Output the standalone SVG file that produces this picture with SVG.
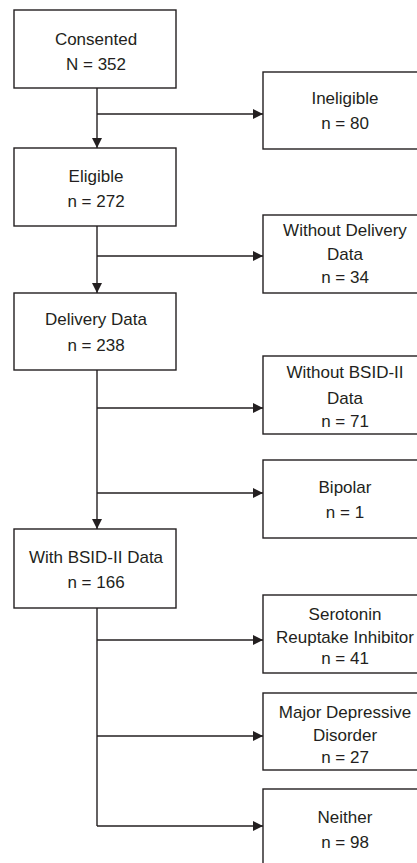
<svg xmlns="http://www.w3.org/2000/svg" width="417" height="863" viewBox="0 0 417 863">
<style>
.box{fill:#fff;stroke:#231f20;stroke-width:1.4}
.ln{fill:none;stroke:#231f20;stroke-width:1.4}
text{font-family:"Liberation Sans",Arial,sans-serif;font-size:17px;fill:#231f20;text-anchor:middle}
</style>
<defs>
<marker id="ah" viewBox="0 0 10 10" refX="10" refY="5" markerWidth="10" markerHeight="10" markerUnits="userSpaceOnUse" orient="auto">
<path d="M0,0 L10,5 L0,10 Z" fill="#231f20"/>
</marker>
</defs>
<rect width="417" height="863" fill="#fff"/>
<g id="connectors">
<path class="ln" d="M97,88 V148" marker-end="url(#ah)"/>
<path class="ln" d="M97,114 H263" marker-end="url(#ah)"/>
<path class="ln" d="M97,226 V293" marker-end="url(#ah)"/>
<path class="ln" d="M97,256 H263" marker-end="url(#ah)"/>
<path class="ln" d="M97,370 V529" marker-end="url(#ah)"/>
<path class="ln" d="M97,408 H263" marker-end="url(#ah)"/>
<path class="ln" d="M97,493 H263" marker-end="url(#ah)"/>
<path class="ln" d="M97,608 V826"/>
<path class="ln" d="M97,640 H263" marker-end="url(#ah)"/>
<path class="ln" d="M97,736 H263" marker-end="url(#ah)"/>
<path class="ln" d="M97,826 H263" marker-end="url(#ah)"/>
</g>
<g id="consented"><rect class="box" x="14" y="10" width="162" height="78"/><text x="96" y="45">Consented</text><text x="96" y="70">N = 352</text></g>
<g id="ineligible"><rect class="box" x="263" y="72" width="164" height="77"/><text x="345" y="104">Ineligible</text><text x="345" y="129">n = 80</text></g>
<g id="eligible"><rect class="box" x="14" y="148" width="162" height="78"/><text x="96" y="182">Eligible</text><text x="96" y="207">n = 272</text></g>
<g id="without-delivery"><rect class="box" x="263" y="215" width="164" height="78"/><text x="345" y="236">Without Delivery</text><text x="345" y="260">Data</text><text x="345" y="283">n = 34</text></g>
<g id="delivery"><rect class="box" x="14" y="293" width="162" height="77"/><text x="96" y="325">Delivery Data</text><text x="96" y="351">n = 238</text></g>
<g id="without-bsid"><rect class="box" x="263" y="356" width="164" height="78"/><text x="345" y="378">Without BSID-II</text><text x="345" y="404">Data</text><text x="345" y="427">n = 71</text></g>
<g id="bipolar"><rect class="box" x="263" y="460" width="164" height="78"/><text x="345" y="493">Bipolar</text><text x="345" y="518">n = 1</text></g>
<g id="with-bsid"><rect class="box" x="14" y="529" width="162" height="79"/><text x="96" y="563">With BSID-II Data</text><text x="96" y="588">n = 166</text></g>
<g id="serotonin"><rect class="box" x="263" y="595" width="164" height="78"/><text x="345" y="620">Serotonin</text><text x="345" y="643">Reuptake Inhibitor</text><text x="345" y="664">n = 41</text></g>
<g id="mdd"><rect class="box" x="263" y="693" width="164" height="77"/><text x="345" y="718">Major Depressive</text><text x="345" y="741">Disorder</text><text x="345" y="763">n = 27</text></g>
<g id="neither"><rect class="box" x="263" y="789" width="164" height="90"/><text x="345" y="823">Neither</text><text x="345" y="848">n = 98</text></g>
</svg>
